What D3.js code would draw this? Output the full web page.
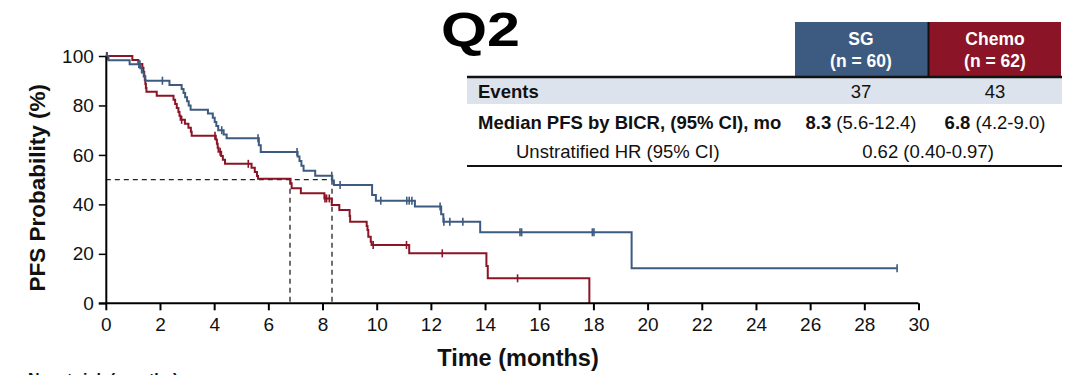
<!DOCTYPE html>
<html>
<head>
<meta charset="utf-8">
<script src="https://cdn.jsdelivr.net/npm/d3@7"></script>
<style>
  html, body { margin: 0; padding: 0; background: #ffffff; }
  svg { display: block; font-family: "Liberation Sans", Arial, sans-serif; }
</style>
</head>
<body>
<svg id="chart" width="1077" height="375"></svg>
<script>
// ---------------- DATA ----------------
const xTicks = [0, 2, 4, 6, 8, 10, 12, 14, 16, 18, 20, 22, 24, 26, 28, 30];
const yTicks = [0, 20, 40, 60, 80, 100];

// SG (blue) KM steps
const sgTimes = [0, 0.1, 0.88, 1.28, 1.33, 1.40, 1.46, 2.35, 2.80, 2.87, 2.93, 3.00, 3.06, 3.13,
  3.77, 3.95, 4.02, 4.08, 4.15, 4.35, 4.46, 5.65, 5.72, 7.08, 7.15, 7.22, 7.30, 7.73,
  8.36, 8.42, 9.83, 9.97, 11.41, 12.38, 12.46, 13.82, 19.41];
const sgSurv = [100, 98.3, 96.7, 95.0, 93.3, 91.7, 90.0, 88.3, 86.7, 85.0, 83.3, 81.7, 80.0, 78.3,
  76.7, 75.0, 73.3, 71.7, 70.0, 68.3, 66.7, 63.9, 61.2, 59.4, 57.5, 55.6, 53.6, 51.6,
  49.7, 47.8, 43.8, 41.5, 39.1, 36.0, 33.0, 28.7, 14.2];
const sgCensor = [0.05, 1.22, 1.26, 2.09, 4.28, 5.62, 7.06, 8.34, 8.65, 10.15, 11.11, 11.2, 11.3,
  12.34, 12.48, 12.7, 13.18, 15.29, 15.35, 17.96, 18.02, 29.21];

// Chemo (red) KM steps
const chemoTimes = [0, 0.98, 1.2, 1.35, 1.39, 1.42, 1.44, 1.46, 1.48, 1.5, 1.88,
  2.5, 2.56, 2.62, 2.68, 2.72, 2.76, 2.92, 3.05, 3.14, 3.17,
  4.06, 4.1, 4.13, 4.16, 4.26, 4.32, 4.4, 5.38, 5.5, 5.58, 5.62,
  6.82, 6.86, 7.2, 8.07, 8.34, 8.62, 9.0, 9.02, 9.63, 9.66, 9.69, 9.78, 9.81,
  11.2, 14.05, 14.1, 17.85];
const chemoSurv = [100, 98.4, 96.8, 95.2, 93.5, 91.9, 90.3, 88.7, 87.1, 85.5, 83.9,
  82.3, 80.6, 79.0, 77.4, 75.8, 74.2, 72.6, 71.0, 69.4, 67.8,
  66.2, 64.5, 62.9, 61.3, 59.6, 58.0, 56.4, 54.8, 53.1, 51.5, 50.4,
  48.5, 46.5, 44.5, 42.4, 39.7, 37.7, 35.3, 33.0, 31.3, 29.6, 26.9, 24.9, 23.6,
  20.2, 15.1, 10.1, 0];
const chemoCensor = [0.03, 2.8, 4.03, 4.22, 5.26, 8.09, 8.15, 8.25, 9.87, 11.1, 12.42, 15.2];

const medians = [6.8, 8.35];
const tableHeaders = [["SG", "(n = 60)"], ["Chemo", "(n = 62)"]];
const eventsRow = ["Events", "37", "43"];
const medianRow = ["Median PFS by BICR, (95% CI), mo", ["8.3", " (5.6-12.4)"], ["6.8", " (4.2-9.0)"]];
const hrRow = ["Unstratified HR (95% CI)", "0.62 (0.40-0.97)"];

const BLUE = "#3d5a80";
const RED = "#8b1426";

// ---------------- CHART ----------------
const svg = d3.select("#chart");
const x = d3.scaleLinear().domain([0, 30]).range([105.8, 918.5]);
const y = d3.scaleLinear().domain([0, 100]).range([303.3, 56]);

// Dashed median lines
const dash = svg.append("g").attr("stroke", "#222").attr("stroke-width", 1.3)
  .attr("stroke-dasharray", "5,4").attr("fill", "none");
dash.append("line").attr("x1", x(0)).attr("x2", x(d3.max(medians))).attr("y1", y(50)).attr("y2", y(50));
medians.forEach(m => {
  dash.append("line").attr("x1", x(m)).attr("x2", x(m)).attr("y1", y(50)).attr("y2", y(0));
});

function survAt(times, surv, t) {
  let s = surv[0];
  for (let i = 0; i < times.length; i++) if (times[i] <= t) s = surv[i];
  return s;
}

function drawCurve(times, surv, censor, color) {
  const pts = times.map((t, i) => [t, surv[i]]);
  const lastT = Math.max(d3.max(censor), times[times.length - 1]);
  pts.push([lastT, survAt(times, surv, lastT)]);
  const line = d3.line().x(d => x(d[0])).y(d => y(d[1])).curve(d3.curveStepAfter);
  svg.append("path").datum(pts).attr("d", line).attr("fill", "none")
    .attr("stroke", color).attr("stroke-width", 2);
  svg.append("g").selectAll("line").data(censor).join("line")
    .attr("x1", d => x(d)).attr("x2", d => x(d))
    .attr("y1", d => y(survAt(times, surv, d)) - 4)
    .attr("y2", d => y(survAt(times, surv, d)) + 4)
    .attr("stroke", color).attr("stroke-width", 1.6);
}
drawCurve(chemoTimes, chemoSurv, chemoCensor, RED);
drawCurve(sgTimes, sgSurv, sgCensor, BLUE);

// Axes
const xAxis = d3.axisBottom(x).tickValues(xTicks).tickSize(7).tickSizeOuter(0);
const gx = svg.append("g").attr("transform", `translate(0,${y(0)})`).call(xAxis);
gx.select(".domain").attr("stroke-width", 2).attr("d", `M${x(0) - 7},0H${x(30)}`);
gx.selectAll(".tick line").attr("stroke-width", 2);
gx.selectAll(".tick text").attr("font-size", 19).attr("fill", "#111").attr("dy", "0.95em")
  .attr("font-family", "Liberation Sans, Arial, sans-serif");

const yAxis = d3.axisLeft(y).tickValues(yTicks).tickSize(7).tickSizeOuter(0);
const gy = svg.append("g").attr("transform", `translate(${x(0)},0)`).call(yAxis);
gy.select(".domain").attr("stroke-width", 2);
gy.selectAll(".tick line").attr("stroke-width", 1.5);
gy.selectAll(".tick text").attr("font-size", 19).attr("fill", "#111").attr("x", -12)
  .attr("font-family", "Liberation Sans, Arial, sans-serif");

svg.append("text").attr("x", 518).attr("y", 366).attr("text-anchor", "middle")
  .attr("font-size", 23.5).attr("font-weight", "bold").attr("fill", "#111").text("Time (months)");
svg.append("text").attr("transform", `translate(45,${y(50) + 8}) rotate(-90)`)
  .attr("text-anchor", "middle").attr("font-size", 22.5).attr("font-weight", "bold")
  .attr("fill", "#111").text("PFS Probability (%)");

svg.append("text").attr("x", 28).attr("y", 385).attr("font-size", 16).attr("font-weight", "bold")
  .attr("fill", "#111").text("No. at risk (months)");

// ---------------- TABLE ----------------
svg.append("text").attr("x", 441).attr("y", 46)
  .attr("font-size", 48).attr("font-weight", "bold").attr("fill", "#000")
  .attr("textLength", 79).attr("lengthAdjust", "spacingAndGlyphs").text("Q2");

const colX = [861, 995];
const boxes = [{x: 795, w: 133, c: BLUE}, {x: 929, w: 132, c: RED}];
boxes.forEach((b, i) => {
  svg.append("rect").attr("x", b.x).attr("y", 22).attr("width", b.w).attr("height", 54).attr("fill", b.c);
  svg.append("text").attr("x", colX[i]).attr("y", 45).attr("text-anchor", "middle")
    .attr("font-size", 17.5).attr("font-weight", "bold").attr("fill", "#fff").text(tableHeaders[i][0]);
  svg.append("text").attr("x", colX[i]).attr("y", 67).attr("text-anchor", "middle")
    .attr("font-size", 17.5).attr("font-weight", "bold").attr("fill", "#fff").text(tableHeaders[i][1]);
});
svg.append("line").attr("x1", 928.5).attr("x2", 928.5).attr("y1", 22).attr("y2", 76)
  .attr("stroke", "#111").attr("stroke-width", 2);

svg.append("rect").attr("x", 467).attr("y", 78).attr("width", 595).attr("height", 26).attr("fill", "#dde3ec");
svg.append("line").attr("x1", 467).attr("x2", 1062).attr("y1", 77).attr("y2", 77)
  .attr("stroke", "#111").attr("stroke-width", 2.5);
svg.append("line").attr("x1", 467).attr("x2", 1062).attr("y1", 166).attr("y2", 166)
  .attr("stroke", "#111").attr("stroke-width", 2);

const FS = 18.5;
svg.append("text").attr("x", 478).attr("y", 98).attr("font-size", FS).attr("font-weight", "bold")
  .attr("fill", "#111").text(eventsRow[0]);
[1, 2].forEach(i => {
  svg.append("text").attr("x", colX[i - 1]).attr("y", 98).attr("text-anchor", "middle")
    .attr("font-size", FS).attr("fill", "#111").text(eventsRow[i]);
});

svg.append("text").attr("x", 478).attr("y", 129).attr("font-size", FS).attr("font-weight", "bold")
  .attr("fill", "#111").text(medianRow[0]);
[1, 2].forEach(i => {
  const t = svg.append("text").attr("x", colX[i - 1]).attr("y", 129).attr("text-anchor", "middle")
    .attr("font-size", FS).attr("fill", "#111");
  t.append("tspan").attr("font-weight", "bold").text(medianRow[i][0]);
  t.append("tspan").text(medianRow[i][1]);
});

svg.append("text").attr("x", 516).attr("y", 158).attr("font-size", FS)
  .attr("fill", "#111").text(hrRow[0]);
svg.append("text").attr("x", 928).attr("y", 158).attr("text-anchor", "middle").attr("font-size", FS)
  .attr("fill", "#111").text(hrRow[1]);
</script>
</body>
</html>
